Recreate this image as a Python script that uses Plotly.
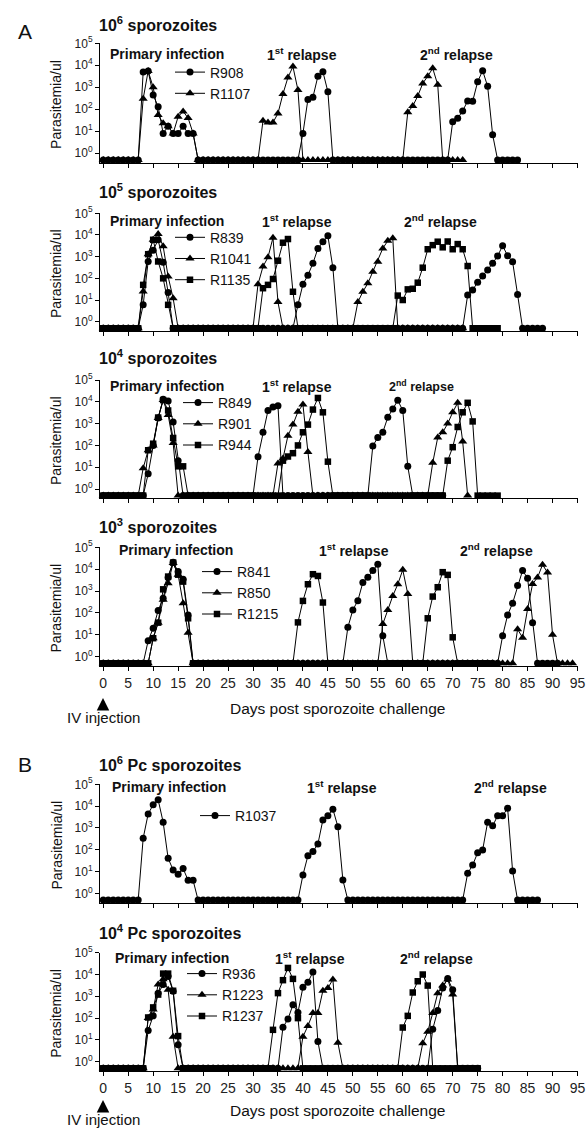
import plotly.graph_objects as go

# ---------------- data (parasitemia per ul, one value per day starting day 0; 0.5 = undetectable level) ----------------
R908 = [0.5, 0.5, 0.5, 0.5, 0.5, 0.5, 0.5, 0.5,
        5000, 5500, 450, 130, 8, 17, 8, 8, 17, 8, 8,
        0.5, 0.5, 0.5, 0.5, 0.5, 0.5, 0.5, 0.5, 0.5, 0.5,
        0.5, 0.5, 0.5, 0.5, 0.5, 0.5, 0.5, 0.5, 0.5, 0.5,
        0.5,
        8, 280, 350, 3200, 5100, 630,
        0.5, 0.5, 0.5, 0.5, 0.5, 0.5, 0.5, 0.5, 0.5, 0.5,
        0.5, 0.5, 0.5, 0.5, 0.5, 0.5, 0.5, 0.5, 0.5, 0.5,
        0.5, 0.5, 0.5, 0.5,
        27, 39, 84, 240, 230, 1800, 5700, 1100, 7,
        0.5, 0.5, 0.5, 0.5, 0.5]
R1107 = [0.5, 0.5, 0.5, 0.5, 0.5, 0.5, 0.5, 0.5,
         300, 5500, 1000, 55, 23, 17, 8, 46, 80, 40, 8,
         0.5, 0.5, 0.5, 0.5, 0.5, 0.5, 0.5, 0.5, 0.5, 0.5,
         0.5, 0.5, 0.5,
         30, 25, 25, 65, 500, 2800, 8700, 750,
         0.5, 0.5, 0.5, 0.5, 0.5, 0.5, 0.5, 0.5, 0.5, 0.5,
         0.5, 0.5, 0.5, 0.5, 0.5, 0.5, 0.5, 0.5, 0.5, 0.5,
         0.5,
         73, 140, 400, 1500, 3200, 7300, 1300,
         0.5, 0.5, 0.5, 0.5, 0.5]

R839 = [0.5, 0.5, 0.5, 0.5, 0.5, 0.5, 0.5, 0.5,
        6, 600, 2000, 6000, 550, 22,
        0.5, 0.5, 0.5, 0.5, 0.5, 0.5, 0.5, 0.5, 0.5, 0.5,
        0.5, 0.5, 0.5, 0.5, 0.5, 0.5, 0.5, 0.5, 0.5, 0.5,
        0.5, 0.5, 0.5, 0.5, 0.5,
        6, 53, 140, 490, 2400, 4900, 9100, 310,
        0.5, 0.5, 0.5, 0.5, 0.5, 0.5, 0.5, 0.5, 0.5, 0.5,
        0.5, 0.5, 0.5, 0.5, 0.5, 0.5, 0.5, 0.5, 0.5, 0.5,
        0.5, 0.5, 0.5, 0.5, 0.5, 0.5,
        17, 29, 66, 127, 240, 490, 1070, 3200, 1100, 580, 18,
        0.5, 0.5, 0.5, 0.5, 0.5]
R1041 = [0.5, 0.5, 0.5, 0.5, 0.5, 0.5, 0.5, 0.5,
         25, 1300, 6000, 11000, 3000, 120, 12,
         0.5, 0.5, 0.5, 0.5, 0.5, 0.5, 0.5, 0.5, 0.5, 0.5,
         0.5, 0.5, 0.5, 0.5, 0.5, 0.5,
         53, 350, 930, 7500, 8,
         0.5, 0.5, 0.5, 0.5, 0.5, 0.5, 0.5, 0.5, 0.5, 0.5,
         0.5, 0.5, 0.5, 0.5, 0.5,
         8, 24, 59, 200, 580, 2400, 5400, 7000,
         0.5, 0.5, 0.5, 0.5, 0.5, 0.5, 0.5, 0.5, 0.5, 0.5,
         0.5, 0.5, 0.5, 0.5]
R1135 = [0.5, 0.5, 0.5, 0.5, 0.5, 0.5, 0.5, 0.5,
         50, 1300, 6000, 600, 100, 6,
         0.5, 0.5, 0.5, 0.5, 0.5, 0.5, 0.5, 0.5, 0.5, 0.5,
         0.5, 0.5, 0.5, 0.5, 0.5, 0.5, 0.5, 0.5,
         35, 50, 93, 650, 4400, 6500, 24,
         0.5, 0.5, 0.5, 0.5, 0.5, 0.5, 0.5, 0.5, 0.5, 0.5,
         0.5, 0.5, 0.5, 0.5, 0.5, 0.5, 0.5, 0.5, 0.5, 0.5,
         16, 10, 31, 33, 63, 310, 2200, 3400, 4900, 2700, 5000, 2200, 3800, 2200, 370,
         0.5, 0.5, 0.5, 0.5, 0.5, 0.5]

R849 = [0.5, 0.5, 0.5, 0.5, 0.5, 0.5, 0.5, 0.5, 0.5,
        5, 100, 1800, 13000, 11000, 1200, 20,
        0.5, 0.5, 0.5, 0.5, 0.5, 0.5, 0.5, 0.5, 0.5, 0.5,
        0.5, 0.5, 0.5, 0.5, 0.5,
        30, 400, 4000, 5800, 6600,
        0.5, 0.5, 0.5, 0.5, 0.5, 0.5, 0.5, 0.5, 0.5, 0.5,
        0.5, 0.5, 0.5, 0.5, 0.5, 0.5, 0.5, 0.5,
        95, 230, 400, 1950, 4700, 11700, 4000, 11,
        0.5, 0.5, 0.5, 0.5, 0.5, 0.5, 0.5]
R901 = [0.5, 0.5, 0.5, 0.5, 0.5, 0.5, 0.5, 0.5,
        9, 60, 100, 1800, 12000, 2500, 130,
        0.5, 0.5, 0.5, 0.5, 0.5, 0.5, 0.5, 0.5, 0.5, 0.5,
        0.5, 0.5, 0.5, 0.5, 0.5, 0.5, 0.5, 0.5, 0.5, 0.5,
        15, 25, 280, 900, 3500, 7500, 50,
        0.5, 0.5, 0.5, 0.5, 0.5, 0.5, 0.5, 0.5, 0.5, 0.5,
        0.5, 0.5, 0.5, 0.5, 0.5, 0.5, 0.5, 0.5, 0.5, 0.5,
        0.5, 0.5, 0.5, 0.5,
        16, 230, 400, 1000, 3300, 9000, 150,
        0.5]
R944 = [0.5, 0.5, 0.5, 0.5, 0.5, 0.5, 0.5, 0.5, 0.5,
        60, 120, 1900, 12000, 4000, 220, 11, 11,
        0.5, 0.5, 0.5, 0.5, 0.5, 0.5, 0.5, 0.5, 0.5, 0.5,
        0.5, 0.5, 0.5, 0.5, 0.5, 0.5, 0.5, 0.5, 0.5,
        20, 31, 44, 100, 400, 900, 4400, 15000, 3300, 18,
        0.5, 0.5, 0.5, 0.5, 0.5, 0.5, 0.5, 0.5, 0.5, 0.5,
        0.5, 0.5, 0.5, 0.5, 0.5, 0.5, 0.5, 0.5, 0.5, 0.5,
        0.5, 0.5, 0.5,
        20, 83, 700, 3300, 9000, 1260,
        0.5, 0.5, 0.5, 0.5, 0.5]

R841 = [0.5, 0.5, 0.5, 0.5, 0.5, 0.5, 0.5, 0.5, 0.5,
        5.4, 20, 128, 470, 4200, 21000, 7800, 3500, 80,
        0.5, 0.5, 0.5, 0.5, 0.5, 0.5, 0.5, 0.5, 0.5, 0.5,
        0.5, 0.5, 0.5, 0.5, 0.5, 0.5, 0.5, 0.5, 0.5, 0.5,
        0.5, 0.5, 0.5, 0.5, 0.5, 0.5, 0.5, 0.5, 0.5, 0.5,
        0.5,
        22, 137, 365, 2450, 4300, 8700, 17000, 9,
        0.5, 0.5, 0.5, 0.5, 0.5, 0.5, 0.5, 0.5, 0.5, 0.5,
        0.5, 0.5, 0.5, 0.5, 0.5, 0.5, 0.5, 0.5, 0.5, 0.5,
        0.5, 0.5, 0.5,
        9, 80, 280, 1800, 8700, 3900, 36,
        0.5, 0.5, 0.5, 0.5, 0.5]
R850 = [0.5, 0.5, 0.5, 0.5, 0.5, 0.5, 0.5, 0.5, 0.5, 0.5,
        7, 36, 400, 2300, 19000, 5500, 280, 12.6,
        0.5, 0.5, 0.5, 0.5, 0.5, 0.5, 0.5, 0.5, 0.5, 0.5,
        0.5, 0.5, 0.5, 0.5, 0.5, 0.5, 0.5, 0.5, 0.5, 0.5,
        0.5, 0.5, 0.5, 0.5, 0.5, 0.5, 0.5, 0.5, 0.5, 0.5,
        0.5, 0.5, 0.5, 0.5, 0.5, 0.5, 0.5, 0.5,
        31, 137, 600, 2050, 9300, 740,
        0.5, 0.5, 0.5, 0.5, 0.5, 0.5, 0.5, 0.5, 0.5, 0.5,
        0.5, 0.5, 0.5, 0.5, 0.5, 0.5, 0.5, 0.5, 0.5, 0.5,
        0.5,
        18, 7.4, 150, 2100, 4200, 16000, 7000, 10,
        0.5, 0.5, 0.5, 0.5]
R1215 = [0.5, 0.5, 0.5, 0.5, 0.5, 0.5, 0.5, 0.5, 0.5, 0.5,
         7, 36, 1200, 4600, 20000, 5600, 2700, 57,
         0.5, 0.5, 0.5, 0.5, 0.5, 0.5, 0.5, 0.5, 0.5, 0.5,
         0.5, 0.5, 0.5, 0.5, 0.5, 0.5, 0.5, 0.5, 0.5, 0.5,
         0.5,
         37, 355, 2050, 5900, 4900, 300,
         0.5, 0.5, 0.5, 0.5, 0.5, 0.5, 0.5, 0.5, 0.5, 0.5,
         0.5, 0.5, 0.5, 0.5, 0.5, 0.5, 0.5, 0.5, 0.5, 0.5,
         57, 560, 1500, 7300, 5500, 7.7,
         0.5, 0.5, 0.5, 0.5, 0.5, 0.5, 0.5]

R1037 = [0.5, 0.5, 0.5, 0.5, 0.5, 0.5, 0.5, 0.5,
         340, 4400, 11500, 19500, 1850, 41, 12, 7.6, 14, 4, 4,
         0.5, 0.5, 0.5, 0.5, 0.5, 0.5, 0.5, 0.5, 0.5, 0.5,
         0.5, 0.5, 0.5, 0.5, 0.5, 0.5, 0.5, 0.5, 0.5, 0.5,
         0.5,
         7, 54, 83, 185, 2350, 3600, 7300, 1150, 4.2,
         0.5, 0.5, 0.5, 0.5, 0.5, 0.5, 0.5, 0.5, 0.5, 0.5,
         0.5, 0.5, 0.5, 0.5, 0.5, 0.5, 0.5, 0.5, 0.5, 0.5,
         0.5, 0.5, 0.5, 0.5,
         8.4, 20, 74, 98, 1850, 1250, 3600, 3600, 8100, 10.7,
         0.5, 0.5, 0.5, 0.5, 0.5]

R936 = [0.5, 0.5, 0.5, 0.5, 0.5, 0.5, 0.5, 0.5, 0.5,
        27, 127, 1400, 3500, 8000, 1700, 6,
        0.5, 0.5, 0.5, 0.5, 0.5, 0.5, 0.5, 0.5, 0.5, 0.5,
        0.5, 0.5, 0.5, 0.5, 0.5, 0.5, 0.5, 0.5, 0.5, 0.5,
        38, 90, 410, 180, 2600, 4400, 13000, 8.4,
        0.5, 0.5, 0.5, 0.5, 0.5, 0.5, 0.5, 0.5, 0.5, 0.5,
        0.5, 0.5, 0.5, 0.5, 0.5, 0.5, 0.5, 0.5, 0.5, 0.5,
        0.5, 0.5,
        31, 225, 2400, 6600, 2000,
        0.5, 0.5, 0.5, 0.5, 0.5]
R1223 = [0.5, 0.5, 0.5, 0.5, 0.5, 0.5, 0.5, 0.5, 0.5,
         100, 250, 3500, 6000, 2000, 14,
         0.5, 0.5, 0.5, 0.5, 0.5, 0.5, 0.5, 0.5, 0.5, 0.5,
         0.5, 0.5, 0.5, 0.5, 0.5, 0.5, 0.5, 0.5, 0.5, 0.5,
         0.5, 0.5, 0.5, 0.5, 0.5,
         14, 44, 170, 170, 1800, 2400, 5900, 7.5,
         0.5, 0.5, 0.5, 0.5, 0.5, 0.5, 0.5, 0.5, 0.5, 0.5,
         0.5, 0.5, 0.5, 0.5, 0.5, 0.5,
         7, 24, 170, 1400, 3100, 5900, 1200,
         0.5]
R1237 = [0.5, 0.5, 0.5, 0.5, 0.5, 0.5, 0.5, 0.5, 0.5,
         107, 310, 1200, 11000, 11000, 1800, 15,
         0.5, 0.5, 0.5, 0.5, 0.5, 0.5, 0.5, 0.5, 0.5, 0.5,
         0.5, 0.5, 0.5, 0.5, 0.5, 0.5, 0.5, 0.5,
         29, 1400, 5500, 20000, 6300, 100,
         0.5, 0.5, 0.5, 0.5, 0.5, 0.5, 0.5, 0.5, 0.5, 0.5,
         0.5, 0.5, 0.5, 0.5, 0.5, 0.5, 0.5, 0.5, 0.5, 0.5,
         37, 127, 1500, 4900, 10000, 3100,
         0.5, 0.5, 0.5, 0.5, 0.5, 0.5, 0.5, 0.5, 0.5, 0.5]

x_ticks = [0, 5, 10, 15, 20, 25, 30, 35, 40, 45, 50, 55, 60, 65, 70, 75, 80, 85, 90, 95]
y_ticks = [1, 10, 100, 1000, 10000, 100000]
y_ticktext = ["10<sup>0</sup>", "10<sup>1</sup>", "10<sup>2</sup>", "10<sup>3</sup>",
              "10<sup>4</sup>", "10<sup>5</sup>"]

# ---------------- layout description ----------------
W, H = 587, 1128
FONT = "Liberation Sans, Arial, Helvetica, sans-serif"
TXT = "#111111"

def px(x):
    return x / W

def py(y):
    return 1 - y / H

panels = [
    dict(top=43.3, bottom=162.5, title="10<sup>6</sup> sporozoites", title_y=24,
         labels=[("Primary infection", 108, 54, 14), ("1<sup>st</sup> relapse", 265, 54, 14),
                 ("2<sup>nd</sup> relapse", 418, 54, 14)],
         series=[("R908", R908, "circle"), ("R1107", R1107, "triangle-up")],
         legend=(170, 83), xlabels=False),
    dict(top=213.3, bottom=330.8, title="10<sup>5</sup> sporozoites", title_y=190.7,
         labels=[("Primary infection", 108, 221, 14), ("1<sup>st</sup> relapse", 260, 221, 14),
                 ("2<sup>nd</sup> relapse", 402, 221, 14)],
         series=[("R839", R839, "circle"), ("R1041", R1041, "triangle-up"), ("R1135", R1135, "square")],
         legend=(170, 258.7), xlabels=False),
    dict(top=380, bottom=498.2, title="10<sup>4</sup> sporozoites", title_y=357.5,
         labels=[("Primary infection", 108, 386, 14), ("1<sup>st</sup> relapse", 260, 386, 14),
                 ("2<sup>nd</sup> relapse", 387, 386, 12.5)],
         series=[("R849", R849, "circle"), ("R901", R901, "triangle-up"), ("R944", R944, "square")],
         legend=(178, 424), xlabels=False),
    dict(top=547.3, bottom=665.9, title="10<sup>3</sup> sporozoites", title_y=526,
         labels=[("Primary infection", 117, 550.5, 14), ("1<sup>st</sup> relapse", 317, 550.5, 14),
                 ("2<sup>nd</sup> relapse", 458, 550.5, 14)],
         series=[("R841", R841, "circle"), ("R850", R850, "triangle-up"), ("R1215", R1215, "square")],
         legend=(197, 593), xlabels=True),
    dict(top=784.3, bottom=902.7, title="10<sup>6</sup> Pc sporozoites", title_y=764,
         labels=[("Primary infection", 110, 787, 14), ("1<sup>st</sup> relapse", 305, 787, 14),
                 ("2<sup>nd</sup> relapse", 472, 787, 14)],
         series=[("R1037", R1037, "circle")],
         legend=(195, 816), xlabels=False),
    dict(top=952.7, bottom=1070.9, title="10<sup>4</sup> Pc sporozoites", title_y=931.5,
         labels=[("Primary infection", 113, 957.5, 14), ("1<sup>st</sup> relapse", 273, 957.5, 14),
                 ("2<sup>nd</sup> relapse", 398, 957.5, 14)],
         series=[("R936", R936, "circle"), ("R1223", R1223, "triangle-up"), ("R1237", R1237, "square")],
         legend=(182, 995), xlabels=True),
]

marker_size = {"circle": 7, "triangle-up": 8, "square": 6.5}

fig = go.Figure()
annotations = []
layout = dict(
    template="none",
    width=W, height=H,
    autosize=False,
    margin=dict(l=0, r=0, t=0, b=0, pad=0, autoexpand=False),
    paper_bgcolor="white", plot_bgcolor="white",
    font=dict(family=FONT, color=TXT, size=14),
    showlegend=True,
)

for i, p in enumerate(panels, start=1):
    sfx = "" if i == 1 else str(i)
    leg = "legend" if i == 1 else "legend%d" % i
    for name, vals, sym in p["series"]:
        fig.add_trace(go.Scatter(
            x=list(range(len(vals))), y=vals, name=name,
            mode="lines+markers",
            line=dict(color="black", width=1),
            marker=dict(symbol=sym, size=marker_size[sym], color="black", line=dict(width=0)),
            cliponaxis=False,
            xaxis="x" + sfx, yaxis="y" + sfx, legend=leg,
        ))
    layout["xaxis" + sfx] = dict(
        domain=[px(100), px(577.5)], range=[-0.65, 95], anchor="y" + sfx,
        automargin=False,
        showline=True, linecolor="black", linewidth=1, mirror=False,
        ticks="outside", ticklen=4, tickwidth=1, tickcolor="black",
        tickmode="array", tickvals=x_ticks, showticklabels=p["xlabels"],
        tickfont=dict(size=14, color="#222222"),
        showgrid=False, zeroline=False,
    )
    layout["yaxis" + sfx] = dict(
        type="log", domain=[py(p["bottom"]), py(p["top"])], range=[-0.42, 5], anchor="x" + sfx,
        automargin=False,
        showline=True, linecolor="black", linewidth=1,
        ticks="outside", ticklen=4, tickwidth=1, tickcolor="black",
        tickmode="array", tickvals=y_ticks, ticktext=y_ticktext,
        tickfont=dict(size=12, color="#222222"),
        showgrid=False, zeroline=False,
    )
    layout[leg] = dict(
        x=px(p["legend"][0]), y=py(p["legend"][1]), xanchor="left", yanchor="middle",
        bgcolor="rgba(0,0,0,0)", borderwidth=0, font=dict(size=14, color=TXT),
        itemwidth=30, tracegroupgap=0,
    )
    # panel title
    annotations.append(dict(text="<b>" + p["title"] + "</b>", x=px(97), y=py(p["title_y"]),
                            xref="paper", yref="paper", xanchor="left", yanchor="middle",
                            showarrow=False, font=dict(size=16, color=TXT)))
    for txt, lx, ly, fs in p["labels"]:
        annotations.append(dict(text="<b>" + txt + "</b>", x=px(lx), y=py(ly),
                                xref="paper", yref="paper", xanchor="left", yanchor="middle",
                                showarrow=False, font=dict(size=fs, color=TXT)))
    # y axis title
    annotations.append(dict(text="Parasitemia/ul", textangle=-90, x=px(56),
                            y=py((p["top"] + p["bottom"]) / 2 + 2),
                            xref="paper", yref="paper", xanchor="center", yanchor="middle",
                            showarrow=False, font=dict(size=14, color=TXT)))

# panel letters
annotations.append(dict(text="A", x=px(25), y=py(31), xref="paper", yref="paper",
                        xanchor="center", yanchor="middle",
                        showarrow=False, font=dict(size=21, color=TXT)))
annotations.append(dict(text="B", x=px(25), y=py(764), xref="paper", yref="paper",
                        xanchor="center", yanchor="middle",
                        showarrow=False, font=dict(size=21, color=TXT)))

# x axis titles and IV injection arrows
for ty, head_y in [(708, 698), (1110, 1100)]:
    annotations.append(dict(text="Days post sporozoite challenge", x=px(337), y=py(ty),
                            xref="paper", yref="paper", xanchor="center", yanchor="middle",
                            showarrow=False, font=dict(size=15.5, color=TXT)))
    annotations.append(dict(text="IV injection", x=px(103), y=py(head_y),
                            xref="paper", yref="paper", showarrow=True,
                            ax=0, ay=19, arrowhead=2, arrowsize=1, arrowwidth=2.5,
                            arrowcolor="black", standoff=0, borderpad=0,
                            font=dict(size=15, color=TXT)))

layout["annotations"] = annotations
fig.update_layout(**layout)
fig.write_html("out.html", config={"displayModeBar": False},
               post_script="document.body.style.margin='0px';")
